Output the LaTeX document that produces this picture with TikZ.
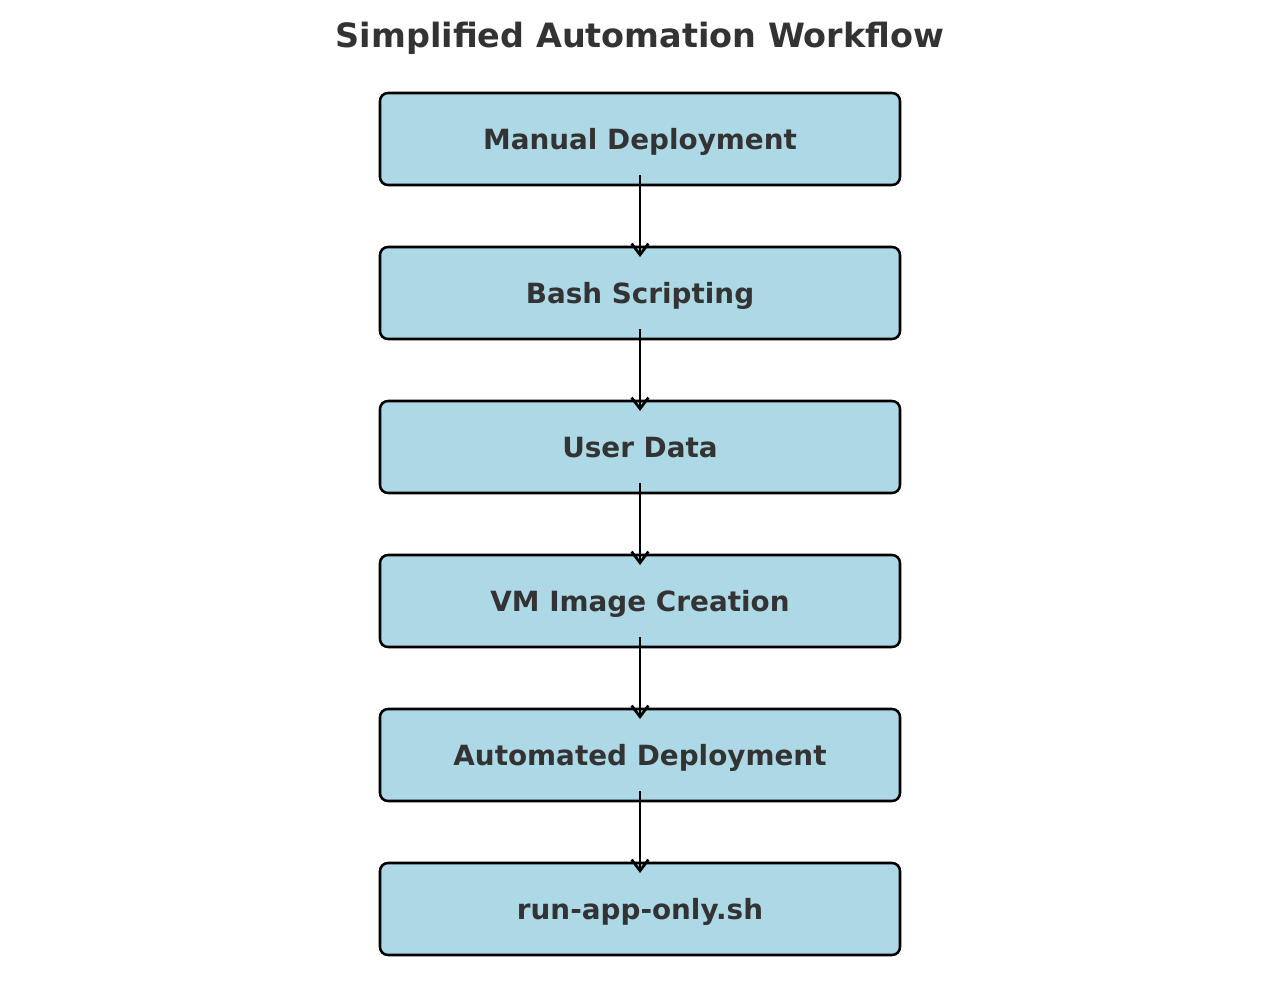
\documentclass[tikz,border=0pt]{standalone}
\usepackage{fontspec}
\setmainfont{DejaVu Sans}
\usetikzlibrary{positioning,arrows.meta}
\definecolor{boxblue}{HTML}{ADD8E6}
\definecolor{textgrey}{HTML}{333333}
\tikzset{
  stagebox/.style={draw=black, fill=boxblue, line width=1.8pt, rounded corners=0.2cm,
    minimum width=13cm, minimum height=2.3cm, inner sep=0pt, outer sep=0pt, text depth=0pt,
    text=textgrey, font=\fontsize{19.8}{24}\selectfont\bfseries},
  flowarrow/.style={line width=1.9pt, -{Straight Barb[length=0.28cm,width=0.42cm,line width=1.9pt]}}
}
\begin{document}
\begin{tikzpicture}[node distance=1.55cm]
    \useasboundingbox (0,0) rectangle (32,-25.15);

    \node[text=textgrey, font=\fontsize{23.8}{28}\selectfont\bfseries] (title) at (16,-0.96) {Simplified Automation Workflow};

    \node[stagebox] (manual) at (16,-3.475) {Manual Deployment};
    \node[stagebox, below=of manual] (bash) {Bash Scripting};
    \node[stagebox, below=of bash] (userdata) {User Data};
    \node[stagebox, below=of userdata] (vmimage) {VM Image Creation};
    \node[stagebox, below=of vmimage] (autodeploy) {Automated Deployment};
    \node[stagebox, below=of autodeploy] (runapp) {run-app-only.sh};

    \draw[flowarrow] ([yshift=0.25cm]manual.south) -- ([yshift=-0.25cm]bash.north);
    \draw[flowarrow] ([yshift=0.25cm]bash.south) -- ([yshift=-0.25cm]userdata.north);
    \draw[flowarrow] ([yshift=0.25cm]userdata.south) -- ([yshift=-0.25cm]vmimage.north);
    \draw[flowarrow] ([yshift=0.25cm]vmimage.south) -- ([yshift=-0.25cm]autodeploy.north);
    \draw[flowarrow] ([yshift=0.25cm]autodeploy.south) -- ([yshift=-0.25cm]runapp.north);

\end{tikzpicture}
\end{document}
